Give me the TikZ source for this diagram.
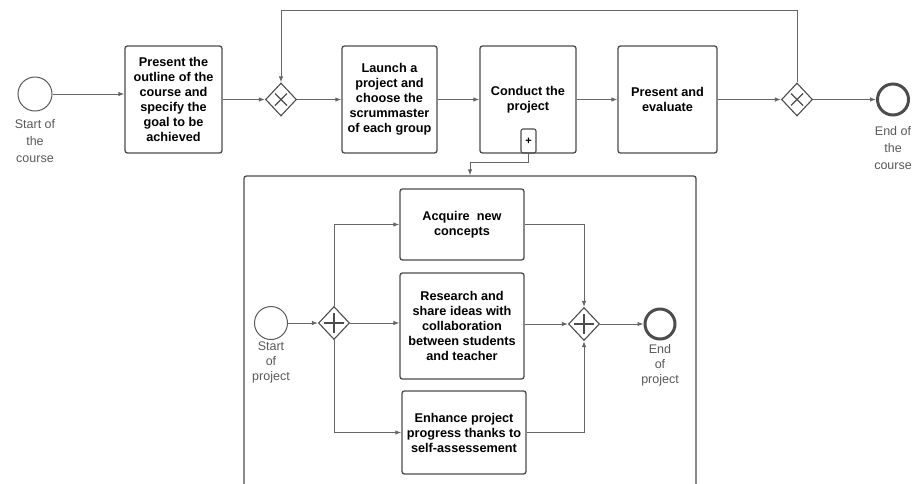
\documentclass[tikz,border=0pt]{standalone}
\usepackage{fontspec}
\setmainfont{Liberation Sans}
\usetikzlibrary{shapes.geometric,arrows.meta,positioning}

\tikzset{
  task/.style={draw=black!70, line width=1.3pt, rounded corners=2.5pt, align=center,
    font=\fontsize{12.7}{15}\selectfont\bfseries, inner sep=2pt},
  gate/.style={diamond, draw=black!70, line width=1.1pt, minimum width=31pt,
    minimum height=33pt, inner sep=0pt},
  startev/.style={circle, draw=black!65, line width=1pt, minimum size=34pt, inner sep=0pt},
  endev/.style={circle, draw=black!70, line width=3pt, minimum size=31pt, inner sep=0pt},
  evlabel/.style={text=black!65, align=center, inner sep=1pt},
  flow/.style={draw=black!60, line width=1pt, -{Latex[length=6pt,width=4.5pt]}},
  gatesign/.style={draw=black!70, line width=1.1pt},
}

\begin{document}
\begin{tikzpicture}[x=1pt, y=-1pt]
    \useasboundingbox (0,0) rectangle (912,483);

    % main process
    \node[startev] (sc) at (35,94) {};
    \node[evlabel, font=\fontsize{12.5}{17}\selectfont, below=7pt of sc] {Start of\\the\\course};

    \node[task, minimum width=97pt, minimum height=107pt] (b1) at (173.5,99.5)
        {Present the\\outline of the\\course and\\specify the\\goal to be\\achieved};
    \node[gate] (g1) at (281,99.5) {};
    \node[task, minimum width=95pt, minimum height=107pt] (b2) at (389.5,99.5)
        {Launch a\\project and\\choose the\\scrummaster\\of each group};
    \node[task, minimum width=96pt, minimum height=107pt] (b3) at (528,99.5)
        {Conduct the\\project};
    \node[task, minimum width=99pt, minimum height=107pt] (b4) at (667.5,99.5)
        {Present and\\evaluate};
    \node[gate] (g2) at (797,99.5) {};
    \node[endev] (ec) at (893,99.5) {};
    \node[evlabel, font=\fontsize{12.5}{17}\selectfont, below=9pt of ec] {End of\\the\\course};

    % sub-process marker
    \node[draw=black!70, line width=1.1pt, rounded corners=2pt, minimum width=15pt,
        minimum height=24pt, inner sep=0pt, font=\fontsize{11}{11}\selectfont\bfseries] (mk) at (528.5,141) {+};

    % exclusive gateways
    \draw[gatesign] ([shift={(-6,-6)}]g1.center) -- ([shift={(6,6)}]g1.center);
    \draw[gatesign] ([shift={(-6,6)}]g1.center) -- ([shift={(6,-6)}]g1.center);
    \draw[gatesign] ([shift={(-6,-6)}]g2.center) -- ([shift={(6,6)}]g2.center);
    \draw[gatesign] ([shift={(-6,6)}]g2.center) -- ([shift={(6,-6)}]g2.center);

    \draw[flow] (sc.east) -- (sc.east -| b1.west);
    \draw[flow] (b1.east) -- (g1.west);
    \draw[flow] (g1.east) -- (b2.west);
    \draw[flow] (b2.east) -- (b3.west);
    \draw[flow] (b3.east) -- (b4.west);
    \draw[flow] (b4.east) -- (g2.west);
    \draw[flow] (g2.east) -- (ec.west);

    % loop back
    \coordinate (top) at (0,10);
    \draw[flow] (g2.north) -- (g2.north |- top) -| (g1.north);

    % expanded sub-process
    \node[draw=black!70, line width=1.3pt, rounded corners=2.5pt, minimum width=452pt,
        minimum height=324pt, inner sep=0pt] (sub) at (470,338) {};
    \draw[flow] (mk.south) -- ++(0,9) -| (sub.north);

    \node[startev, minimum size=33pt] (sp) at (271,323) {};
    \node[evlabel, font=\fontsize{12.5}{15}\selectfont, below=1pt of sp] {Start\\of\\project};
    \node[gate] (g3) at (334,323) {};

    \node[task, minimum width=124pt, minimum height=71pt] (ta) at (462,224.5)
        {Acquire~ new\\concepts};
    \node[task, minimum width=124pt, minimum height=106pt] (tb) at (462,326)
        {Research and\\share ideas with\\collaboration\\between students\\and teacher};
    \node[task, minimum width=124pt, minimum height=83pt] (tc) at (464,432.5)
        {Enhance project\\progress thanks to\\self-assessement};

    \node[gate] (g4) at (584,324) {};
    \node[endev, minimum size=30pt] (ep) at (660,324) {};
    \node[evlabel, font=\fontsize{12.5}{15}\selectfont, below=3pt of ep] {End\\of\\project};

    % parallel gateways
    \draw[gatesign] ([shift={(-10,0)}]g3.center) -- ([shift={(10,0)}]g3.center);
    \draw[gatesign] ([shift={(0,-10)}]g3.center) -- ([shift={(0,10)}]g3.center);
    \draw[gatesign] ([shift={(-10,0)}]g4.center) -- ([shift={(10,0)}]g4.center);
    \draw[gatesign] ([shift={(0,-10)}]g4.center) -- ([shift={(0,10)}]g4.center);

    \draw[flow] (sp.east) -- (g3.west);
    \draw[flow] (g3.north) |- (ta.west);
    \draw[flow] (g3.east) -- (g3.east -| tb.west);
    \draw[flow] (g3.south) |- (tc.west);
    \draw[flow] (ta.east) -| (g4.north);
    \draw[flow] (tb.east |- g4) -- (g4.west);
    \draw[flow] (tc.east) -| (g4.south);
    \draw[flow] (g4.east) -- (ep.west);
\end{tikzpicture}
\end{document}
